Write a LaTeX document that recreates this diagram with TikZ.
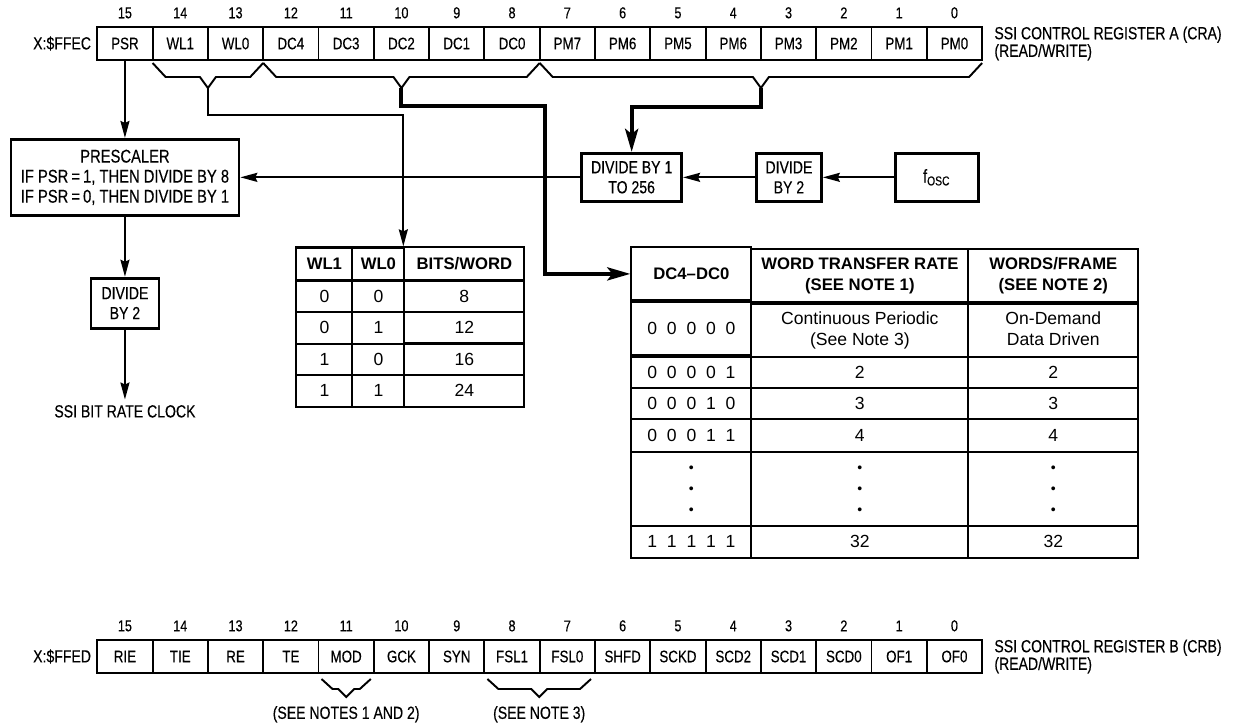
\documentclass[tikz,border=0pt]{standalone}
\usepackage{fontspec}
\setmainfont{Liberation Sans}
\newfontfamily\condfont{Liberation Sans}[FakeStretch=0.8, FakeBold=0.3]
\usetikzlibrary{arrows.meta, positioning, matrix}
\newcommand{\twoline}[2]{\begin{tabular}{@{}c@{}}#1\\#2\end{tabular}}
\newcommand{\dotcol}{\fontsize{8}{12}\selectfont\begin{tabular}{@{}c@{}}\textbullet\\\textbullet\\\textbullet\end{tabular}}

\begin{document}
\begin{tikzpicture}[x=0.02cm, y=-0.02cm]
\tikzstyle{regcell} = [rectangle, draw=black, line width=1.1pt,
    minimum width=1.106cm, minimum height=0.66cm, inner sep=0pt,
    font=\condfont\fontsize{9.5}{11}\selectfont]
\tikzstyle{bitnum} = [inner sep=1pt,
    font=\condfont\fontsize{9}{10}\selectfont]
\tikzstyle{regtext} = [inner sep=0pt, align=left,
    font=\condfont\fontsize{10}{10}\selectfont]
\tikzstyle{block} = [rectangle, draw=black, line width=1.6pt,
    align=center, inner sep=2pt, minimum height=0.96cm,
    font=\condfont\fontsize{10}{11.4}\selectfont]
\tikzstyle{notetext} = [inner sep=1pt,
    font=\condfont\fontsize{10}{11}\selectfont]
\tikzstyle{bitbrace} = [line width=1.1pt]
\tikzstyle{arrow} = [line width=1.1pt,
    -{Stealth[length=0.34cm, width=0.18cm, inset=0.04cm]}]
\tikzstyle{thickarrow} = [line width=2.3pt,
    -{Stealth[length=0.46cm, width=0.26cm, inset=0.1cm]}]

\useasboundingbox (0,0) rectangle (1234,723);

% --- control register A ---
\foreach \lbl [count=\i from 0] in {PSR,WL1,WL0,DC4,DC3,DC2,DC1,DC0,PM7,PM6,PM5,PM6,PM3,PM2,PM1,PM0} {
  \pgfmathtruncatemacro{\bit}{15-\i}
  \node (a\bit) [regcell] at ({124.95+55.3*\i}, 43.5) {\lbl};
  \node (an\bit) [bitnum, above=0.11cm of a\bit] {\bit};
}
\node (craaddr) [regtext, left=0.1cm of a15] {X:\$FFEC};
\node (craname) [regtext, right=0.22cm of a0]
    {SSI CONTROL REGISTER A (CRA)\\(READ/WRITE)};

% --- control register B ---
\foreach \lbl [count=\i from 0] in {RIE,TIE,RE,TE,MOD,GCK,SYN,FSL1,FSL0,SHFD,SCKD,SCD2,SCD1,SCD0,OF1,OF0} {
  \pgfmathtruncatemacro{\bit}{15-\i}
  \node (b\bit) [regcell] at ({124.95+55.3*\i}, 656.5) {\lbl};
  \node (bn\bit) [bitnum, above=0.11cm of b\bit] {\bit};
}
\node (crbaddr) [regtext, left=0.1cm of b15] {X:\$FFED};
\node (crbname) [regtext, right=0.22cm of b0]
    {SSI CONTROL REGISTER B (CRB)\\(READ/WRITE)};

% --- field braces ---
\foreach \xl/\xr/\nm in {152.6/263.2/wltip, 263.2/539.7/dctip, 539.7/982.1/pmtip}
  \draw [bitbrace] (\xl,63) -- ++(13,14) -- ({(\xl+\xr)/2-8},77)
    -- ({(\xl+\xr)/2},88) coordinate (\nm) -- ({(\xl+\xr)/2+8},77)
    -- ({\xr-13},77) -- (\xr,63);
\foreach \xl/\xr/\nm in {321.5/370.8/modtip, 487.4/591/fsltip}
  \draw [bitbrace] (\xl,679) -- ++(11,10) -- ({(\xl+\xr)/2-8},689)
    -- ({(\xl+\xr)/2},697) coordinate (\nm) -- ({(\xl+\xr)/2+8},689)
    -- ({\xr-11},689) -- (\xr,679);
\node (modnote) [notetext, below=0.14cm of modtip] {(SEE NOTES 1 AND 2)};
\node (fslnote) [notetext, below=0.14cm of fsltip] {(SEE NOTE 3)};

% --- clock chain ---
\node (presc) [block, below=1.54cm of a15, minimum width=4.56cm,
    minimum height=1.52cm, font=\condfont\fontsize{10.5}{11.4}\selectfont]
    {PRESCALER\\IF PSR\,=\,1, THEN DIVIDE BY 8\\IF PSR\,=\,0, THEN DIVIDE BY 1};
\node (bitdiv) [block, below=1.2cm of presc, minimum width=1.36cm,
    minimum height=1.0cm] {DIVIDE\\BY 2};
\node (ssiclk) [notetext, inner sep=3pt, below=1.4cm of bitdiv]
    {SSI BIT RATE CLOCK};
\node (pmdiv) [block, right=6.8cm of presc, minimum width=2.0cm]
    {DIVIDE BY 1\\TO 256};
\node (oscdiv) [block, right=1.44cm of pmdiv, minimum width=1.3cm]
    {DIVIDE\\BY 2};
\node (fosc) [block, right=1.42cm of oscdiv, minimum width=1.66cm,
    font=\condfont\fontsize{10.5}{12}\selectfont] {f\textsubscript{OSC}};

% --- word length table ---
\matrix (wltab) [matrix of nodes, anchor=north west, inner sep=0pt,
    column sep=-1.2pt, row sep=-1.2pt,
    nodes={draw, line width=1.2pt, minimum height=0.63cm,
        font=\fontsize{10}{12}\selectfont},
    row 1/.style={nodes={minimum height=0.66cm,
        font=\bfseries\fontsize{9.5}{11}\selectfont}},
    column 1/.style={nodes={minimum width=1.12cm}},
    column 2/.style={nodes={minimum width=1.04cm}},
    column 3/.style={nodes={minimum width=2.4cm}}] at (295,246) {
  WL1 & WL0 & BITS/WORD \\
  0 & 0 & 8 \\
  0 & 1 & 12 \\
  1 & 0 & 16 \\
  1 & 1 & 24 \\
};

% --- frame rate table ---
\matrix (dctab) [matrix of nodes, anchor=north west, inner sep=0pt,
    column sep=-1.2pt, row sep=-1.2pt,
    nodes={draw, line width=1.2pt,
        font=\fontsize{10}{12}\selectfont},
    row 1/.style={nodes={minimum height=1.06cm,
        font=\bfseries\fontsize{9.5}{12}\selectfont}},
    row 2/.style={nodes={minimum height=1.06cm}},
    row 3/.style={nodes={minimum height=0.62cm}},
    row 4/.style={nodes={minimum height=0.62cm}},
    row 5/.style={nodes={minimum height=0.66cm}},
    row 6/.style={nodes={minimum height=1.48cm}},
    row 7/.style={nodes={minimum height=0.64cm}},
    column 1/.style={nodes={minimum width=2.4cm}},
    column 2/.style={nodes={minimum width=4.34cm}},
    column 3/.style={nodes={minimum width=3.4cm}}] at (630,246) {
  DC4--DC0 & \twoline{WORD TRANSFER RATE}{(SEE NOTE 1)} & \twoline{WORDS/FRAME}{(SEE NOTE 2)} \\
  0~~0~~0~~0~~0 & \twoline{Continuous Periodic}{(See Note 3)} & \twoline{On-Demand}{Data Driven} \\
  0~~0~~0~~0~~1 & 2 & 2 \\
  0~~0~~0~~1~~0 & 3 & 3 \\
  0~~0~~0~~1~~1 & 4 & 4 \\
  \dotcol & \dotcol & \dotcol \\
  1~~1~~1~~1~~1 & 32 & 32 \\
};

% --- connections ---
\draw [arrow] (a15.south) -- (a15.south |- presc.north);
\draw [arrow] (presc) -- (bitdiv);
\draw [arrow] (bitdiv) -- (ssiclk);
\draw [arrow] (fosc) -- (oscdiv);
\draw [arrow] (oscdiv) -- (pmdiv);
\draw [arrow] (pmdiv) -- (presc);
\draw [arrow] (wltip) -- ++(0,27) -| (wltab-1-3.north west);
\draw [thickarrow] (dctip) -- ++(0,18) -- ++(143.5,0) |- (dctab-1-1.west);
\draw [thickarrow] (pmtip) -- ++(0,19) -| (pmdiv.north);
\end{tikzpicture}
\end{document}
